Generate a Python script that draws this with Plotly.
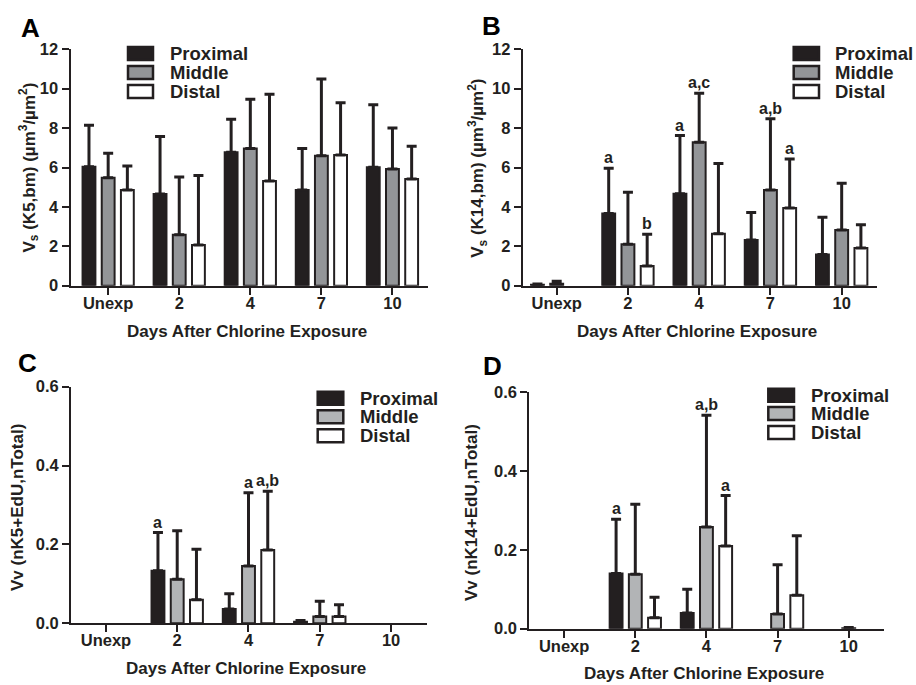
import plotly.graph_objects as go

W, H = 916, 685
FONT = "Liberation Sans"
INK = "#231f20"

categories = ["Unexp", "2", "4", "7", "10"]
series_names = ["Proximal", "Middle", "Distal"]

# ---- Panel A: Vs (K5,bm) ----
a_proximal = [6.04, 4.65, 6.77, 4.86, 6.01]
a_middle = [5.48, 2.59, 6.96, 6.60, 5.92]
a_distal = [4.86, 2.06, 5.31, 6.63, 5.42]
a_proximal_top = [8.14, 7.57, 8.45, 6.97, 9.19]
a_middle_top = [6.72, 5.52, 9.46, 10.49, 8.00]
a_distal_top = [6.08, 5.59, 9.72, 9.29, 7.08]

# ---- Panel B: Vs (K14,bm) ----
b_proximal = [0.05, 3.67, 4.67, 2.32, 1.59]
b_middle = [0.10, 2.10, 7.28, 4.86, 2.83]
b_distal = [0.0, 1.00, 2.64, 3.94, 1.91]
b_proximal_top = [0.08, 5.96, 7.62, 3.72, 3.47]
b_middle_top = [0.22, 4.74, 9.77, 8.48, 5.20]
b_distal_top = [0.0, 2.61, 6.20, 6.43, 3.10]

# ---- Panel C: Vv (nK5+EdU,nTotal) ----
c_proximal = [0.0, 0.133, 0.036, 0.004, 0.0]
c_middle = [0.0, 0.112, 0.145, 0.017, 0.0]
c_distal = [0.0, 0.060, 0.186, 0.017, 0.0]
c_proximal_top = [0.0, 0.230, 0.075, 0.007, 0.0]
c_middle_top = [0.0, 0.235, 0.331, 0.056, 0.0]
c_distal_top = [0.0, 0.188, 0.335, 0.047, 0.0]

# ---- Panel D: Vv (nK14+EdU,nTotal) ----
d_proximal = [0.0, 0.140, 0.040, 0.0, 0.0]
d_middle = [0.0, 0.138, 0.258, 0.037, 0.001]
d_distal = [0.0, 0.028, 0.210, 0.085, 0.0]
d_proximal_top = [0.0, 0.278, 0.100, 0.0, 0.0]
d_middle_top = [0.0, 0.316, 0.542, 0.162, 0.003]
d_distal_top = [0.0, 0.080, 0.338, 0.236, 0.0]

# significance letters: (category index, series index, text)
b_letters = [(1, 0, "a"), (1, 2, "b"), (2, 0, "a"), (2, 1, "a,c"), (3, 1, "a,b"), (3, 2, "a")]
c_letters = [(1, 0, "a"), (2, 1, "a"), (2, 2, "a,b")]
d_letters = [(1, 0, "a"), (2, 1, "a,b"), (2, 2, "a")]

x_title = "Days After Chlorine Exposure"
y_titles = [
    "V<sub>s</sub> (K5,bm) (µm<sup>3</sup>/µm<sup>2</sup>)",
    "V<sub>s</sub> (K14,bm) (µm<sup>3</sup>/µm<sup>2</sup>)",
    "Vv (nK5+EdU,nTotal)",
    "Vv (nK14+EdU,nTotal)",
]
panel_letters = ["A", "B", "C", "D"]

BARGAP = 0.19
BARGROUPGAP = 0.33

panels = [
    dict(vals=[a_proximal, a_middle, a_distal], tops=[a_proximal_top, a_middle_top, a_distal_top],
         letters=[], xpx=(70.5, 428), ypx=(285.7, 49.3), yrange=[0, 12], dtick=2, fmt="d", xr=[-0.53, 4.5],
         gray="#939598", ytitle=(29, 167.5), xtitle=(247, 331), plabel=(30, 27.5),
         leg=dict(sx=(127, 154), tops=(46, 65, 84), tx=168)),
    dict(vals=[b_proximal, b_middle, b_distal], tops=[b_proximal_top, b_middle_top, b_distal_top],
         letters=b_letters, xpx=(522.7, 877.3), ypx=(285.7, 49.3), yrange=[0, 12], dtick=2, fmt="d", xr=[-0.477, 4.5],
         gray="#939598", ytitle=(477.5, 168.3), xtitle=(696.7, 331), plabel=(491.7, 26.5),
         leg=dict(sx=(792.7, 820), tops=(46, 65, 84), tx=833)),
    dict(vals=[c_proximal, c_middle, c_distal], tops=[c_proximal_top, c_middle_top, c_distal_top],
         letters=c_letters, xpx=(71, 426.7), ypx=(623.3, 386.7), yrange=[0, 0.6], dtick=0.2, fmt=".1f", xr=[-0.49, 4.5],
         gray="#b2b4b6", ytitle=(17.7, 507.3), xtitle=(246.2, 668.3), plabel=(27.5, 363.2),
         leg=dict(sx=(316.7, 344.3), tops=(390.7, 409.3, 428.3), tx=357.7)),
    dict(vals=[d_proximal, d_middle, d_distal], tops=[d_proximal_top, d_middle_top, d_distal_top],
         letters=d_letters, xpx=(529.3, 884.3), ypx=(628.7, 392.3), yrange=[0, 0.6], dtick=0.2, fmt=".1f", xr=[-0.49, 4.5],
         gray="#b2b4b6", ytitle=(471.7, 512.3), xtitle=(703.8, 673.3), plabel=(492.5, 365.5),
         leg=dict(sx=(767.3, 795), tops=(387.7, 406, 425), tx=809)),
]

fig = go.Figure()
annotations = []
shapes = []


def px_x(v):
    return v / W


def px_y(v):
    return 1 - v / H


for i, p in enumerate(panels):
    n = "" if i == 0 else str(i + 1)
    xa, ya = "x" + n, "y" + n
    fills = [INK, p["gray"], "white"]
    for s in range(3):
        vals = p["vals"][s]
        tops = p["tops"][s]
        shown = [v if t > 0 else None for v, t in zip(vals, tops)]
        err = [(t - v) if t > 0 else None for v, t in zip(vals, tops)]
        fig.add_trace(go.Bar(
            x=list(range(len(categories))), y=shown, name=series_names[s], offsetgroup=str(s),
            xaxis=xa, yaxis=ya, showlegend=False,
            marker=dict(color=fills[s], line=dict(color=INK, width=2)),
            error_y=dict(type="data", array=err, arrayminus=[0] * len(err), symmetric=False,
                         color=INK, thickness=3, width=5),
        ))
    x0, x1 = p["xpx"]
    yb, yt = p["ypx"]
    axis_common = dict(showgrid=False, zeroline=False, showline=True, linecolor=INK, linewidth=2,
                       ticks="outside", ticklen=7, tickwidth=2, tickcolor=INK, automargin=False,
                       tickfont=dict(family=FONT, size=16.5, color=INK, weight="bold"))
    fig.layout["xaxis" + n] = dict(axis_common, domain=[px_x(x0), px_x(x1)], anchor=ya,
                                   tickmode="array", tickvals=list(range(len(categories))),
                                   ticktext=categories, range=p["xr"], fixedrange=True,
                                   ticklabelstandoff=-6)
    fig.layout["yaxis" + n] = dict(axis_common, domain=[px_y(yb), px_y(yt)], anchor=xa,
                                   range=p["yrange"], dtick=p["dtick"], tick0=0, tickformat=p["fmt"],
                                   fixedrange=True)

    # significance letters above the error caps
    px_per_cat = (x1 - x0) / (p["xr"][1] - p["xr"][0])
    slot = (1 - BARGAP) / 3 * px_per_cat
    for (ci, si, txt) in p["letters"]:
        annotations.append(dict(x=ci, y=p["tops"][si][ci], xref=xa, yref=ya,
                                text="<b>%s</b>" % txt, showarrow=False, xshift=(si - 1) * slot,
                                yanchor="bottom", yshift=0,
                                font=dict(family=FONT, size=16, color=INK)))

    # axis titles
    annotations.append(dict(x=px_x(p["xtitle"][0]), y=px_y(p["xtitle"][1]), xref="paper", yref="paper",
                            text="<b>%s</b>" % x_title, showarrow=False, xanchor="center", yanchor="middle",
                            font=dict(family=FONT, size=17, color=INK)))
    annotations.append(dict(x=px_x(p["ytitle"][0]), y=px_y(p["ytitle"][1]), xref="paper", yref="paper",
                            text="<b>%s</b>" % y_titles[i], showarrow=False, textangle=-90,
                            xanchor="center", yanchor="middle",
                            font=dict(family=FONT, size=17, color=INK)))
    # panel letter
    annotations.append(dict(x=px_x(p["plabel"][0]), y=px_y(p["plabel"][1]), xref="paper", yref="paper",
                            text="<b>%s</b>" % panel_letters[i], showarrow=False, xanchor="center",
                            yanchor="middle", font=dict(family=FONT, size=26, color="black")))
    # legend
    lg = p["leg"]
    for s in range(3):
        top = lg["tops"][s]
        shapes.append(dict(type="rect", xref="paper", yref="paper",
                           x0=px_x(lg["sx"][0] + 1), x1=px_x(lg["sx"][1] - 1),
                           y0=px_y(top + 14), y1=px_y(top + 1),
                           fillcolor=fills[s], line=dict(color=INK, width=2.5)))
        annotations.append(dict(x=px_x(lg["tx"]), y=px_y(top + 7.5), xref="paper", yref="paper",
                                text="<b>%s</b>" % series_names[s], showarrow=False,
                                xanchor="left", yanchor="middle",
                                font=dict(family=FONT, size=18.5, color=INK)))

fig.update_layout(
    width=W, height=H, autosize=False,
    margin=dict(l=0, r=0, t=0, b=0, pad=0, autoexpand=False),
    paper_bgcolor="white", plot_bgcolor="white",
    barmode="group", bargap=BARGAP, bargroupgap=BARGROUPGAP,
    annotations=annotations, shapes=shapes, showlegend=False,
)

# place the figure at the page's top-left corner (no default body margin), no mode bar
fig.write_html("out.html", config={"displayModeBar": False},
               post_script="document.body.style.margin = '0px';")
